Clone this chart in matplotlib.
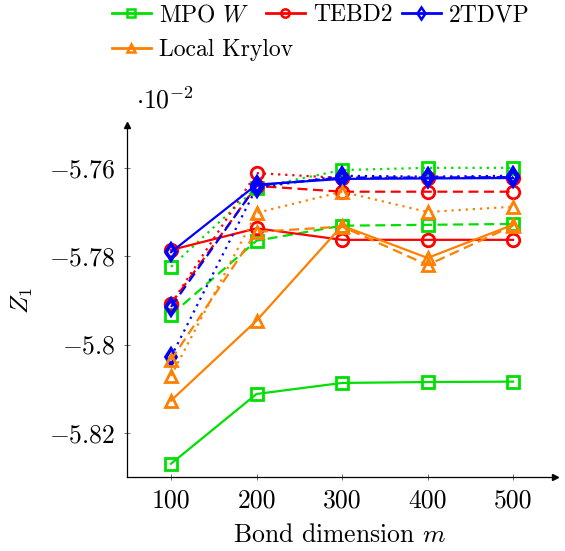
import numpy as np
import matplotlib as mpl
mpl.use("Agg")
import matplotlib.pyplot as plt
from matplotlib.lines import Line2D

mpl.rcParams.update({
    "font.family": "serif",
    "font.serif": ["cmr10"],
    "mathtext.fontset": "cm",
    "font.size": 18.5,
    "axes.unicode_minus": False,
})

# colors (pgf defaults)
c_green = '#00e000'
c_red = '#ff0000'
c_blue = '#0000ff'
c_orange = '#ff8000'

# data, Z_1 in units of 1e-2
m = [100, 200, 300, 400, 500]

mpo_solid = [-5.8270, -5.8112, -5.8087, -5.8085, -5.8084]
mpo_dashed = [-5.7933, -5.7765, -5.7731, -5.7729, -5.7727]
mpo_dotted = [-5.7824, -5.7645, -5.7605, -5.7600, -5.7600]

tebd_solid = [-5.7786, -5.7737, -5.7763, -5.7763, -5.7763]
tebd_dashed = [-5.7908, -5.7641, -5.7654, -5.7654, -5.7654]
tebd_dotted = [-5.7908, -5.7612, -5.7623, -5.7623, -5.7623]

tdvp_solid = [-5.7791, -5.7638, -5.7625, -5.7624, -5.7623]
tdvp_dashed = [-5.7915, -5.7640, -5.7622, -5.7622, -5.7621]
tdvp_dotted = [-5.8028, -5.7645, -5.7618, -5.7620, -5.7618]

krylov_solid = [-5.8127, -5.7946, -5.7731, -5.7804, -5.7729]
krylov_dashed = [-5.8035, -5.7745, -5.7733, -5.7820, -5.7731]
krylov_dotted = [-5.8071, -5.7702, -5.7654, -5.7700, -5.7688]

labels = ['MPO $W$', 'TEBD2', '2TDVP', 'Local Krylov']
yticks = [-5.82, -5.80, -5.78, -5.76]
ytick_labels = ['$-5.82$', '$-5.8$', '$-5.78$', '$-5.76$']

# color, marker, size, edge width, series
series = [
    (c_green, 's', 8.5, 2.0, [mpo_solid, mpo_dashed, mpo_dotted]),
    (c_red, 'o', 9, 2.0, [tebd_solid, tebd_dashed, tebd_dotted]),
    (c_blue, 'd', 8.5, 2.6, [tdvp_solid, tdvp_dashed, tdvp_dotted]),
    (c_orange, '^', 9, 2.0, [krylov_solid, krylov_dashed, krylov_dotted]),
]
styles = ['-', (0, (4.5, 2.5)), (0, (1, 2.2))]

fig = plt.figure(figsize=(5.65, 5.51), dpi=100)
ax = fig.add_axes([127/565, 1 - 477/551, 428/565, 352/551])

handles = []
for color, mk, ms, mew, data in series:
    for i, (ys, ls) in enumerate(zip(data, styles)):
        p, = ax.plot(m, ys, linestyle=ls, color=color, lw=1.6, marker=mk,
                     ms=ms, mew=mew, mfc='none', mec=color)
        if i == 0:
            handles.append(p)

ax.set_xlim(48.5, 549)
ax.set_ylim(-5.8300, -5.7503)
ax.set_xticks(m)
ax.set_xticklabels([str(v) for v in m])
ax.set_yticks(yticks)
ax.set_yticklabels(ytick_labels)
ax.tick_params(direction='inout', length=5, width=0.6, color='0.35', pad=6)

for s in ['top', 'right']:
    ax.spines[s].set_visible(False)
for s in ['left', 'bottom']:
    ax.spines[s].set_linewidth(0.9)

# arrow tips
ax.plot(1, 0, marker='>', color='k', ms=5, transform=ax.transAxes, clip_on=False)
ax.plot(0, 1, marker='^', color='k', ms=5, transform=ax.transAxes, clip_on=False)

fig.text(340/565, 1 - 535/551, 'Bond dimension $m$', ha='center', va='center')
fig.text(22/565, 1 - 300/551, '$Z_1$', ha='center', va='center', rotation=90)
fig.text(136/565, 1 - 100/551, r'$\cdot 10^{-2}$', ha='left', va='center')

# legend entries placed one by one (pgfplots style, no column alignment)
leg_handles = [Line2D([], [], color=h.get_color(), lw=2, marker=h.get_marker(),
                      ms=6, mew=1.8, mfc='none') for h in handles]
leg_pos = [(112, 15), (266, 15), (402, 15), (112, 50)]
for h, lab, (px, py) in zip(leg_handles, labels, leg_pos):
    leg = fig.legend([h], [lab], frameon=False, loc='center left', borderpad=0,
                     handlelength=1.65, handletextpad=0.35, borderaxespad=0,
                     fontsize=17, bbox_to_anchor=(px/565, 1 - py/551))

fig.savefig('out.png', dpi=100)
